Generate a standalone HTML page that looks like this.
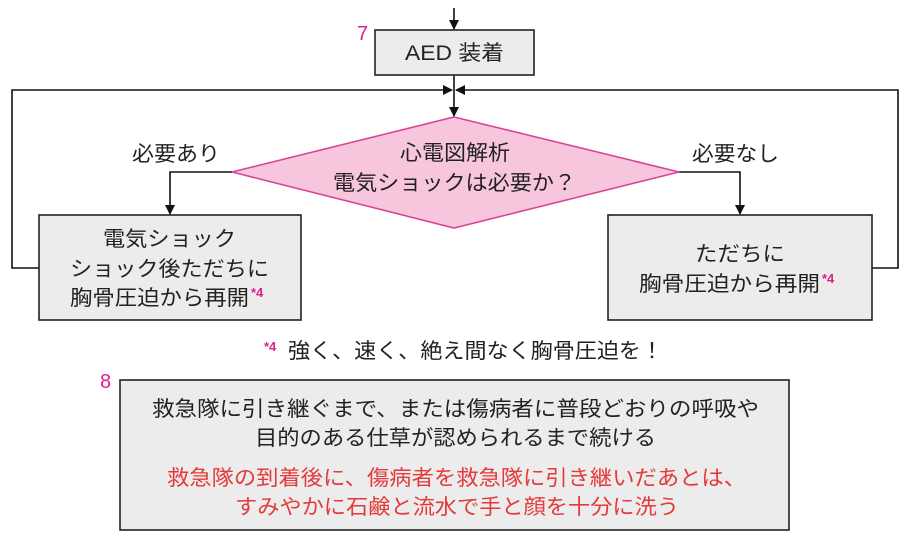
<!DOCTYPE html>
<html><head><meta charset="utf-8"><style>
html,body{margin:0;padding:0;background:#fff;}
svg{display:block;font-family:"Liberation Sans","Noto Sans CJK JP",sans-serif;}
</style></head><body>
<svg width="904" height="543" viewBox="0 0 904 543" xmlns="http://www.w3.org/2000/svg">
<defs><marker id="a" markerWidth="10" markerHeight="10" refX="9" refY="5" orient="auto" markerUnits="userSpaceOnUse"><path d="M0,0 L10,5 L0,10 z" fill="#111"/></marker></defs>
<g stroke="#111" stroke-width="1.6" fill="none">
<line x1="454" y1="8" x2="454" y2="29" marker-end="url(#a)"/>
<line x1="454" y1="75" x2="454" y2="116" marker-end="url(#a)"/>
<polyline points="39,268 12,268 12,90 452,90" marker-end="url(#a)"/>
<polyline points="872,268 898,268 898,90 456,90" marker-end="url(#a)"/>
<polyline points="232,172 170,172 170,214" marker-end="url(#a)"/>
<polyline points="679,172 740,172 740,214" marker-end="url(#a)"/>
</g>
<rect x="375" y="30" width="159" height="45" fill="#ececec" stroke="#222" stroke-width="1.6"/>
<g font-size="21" fill="#222">
<text x="405" y="60" textLength="99" lengthAdjust="spacingAndGlyphs">AED 装着</text>
</g>
<text x="357" y="40" font-size="20" fill="#e0208a">7</text>
<polygon points="454,117 679,172 454,228 232,172" fill="#f7c6dc" stroke="#d9449a" stroke-width="1.6"/>
<g font-size="21" fill="#222">
<text x="400" y="160" textLength="110" lengthAdjust="spacingAndGlyphs">心電図解析</text>
<text x="333" y="190" textLength="243" lengthAdjust="spacingAndGlyphs">電気ショックは必要か？</text>
<text x="132" y="161" textLength="88" lengthAdjust="spacingAndGlyphs">必要あり</text>
<text x="692" y="161" textLength="87" lengthAdjust="spacingAndGlyphs">必要なし</text>
</g>
<rect x="39" y="215" width="262" height="105" fill="#ececec" stroke="#222" stroke-width="1.6"/>
<g font-size="21" fill="#222">
<text x="103" y="246" textLength="133" lengthAdjust="spacingAndGlyphs">電気ショック</text>
<text x="70" y="276" textLength="199" lengthAdjust="spacingAndGlyphs">ショック後ただちに</text>
<text x="70" y="305" textLength="179" lengthAdjust="spacingAndGlyphs">胸骨圧迫から再開</text>
<text x="251" y="297" font-size="13" font-weight="bold" fill="#e0208a">*4</text>
</g>
<rect x="608" y="215" width="264" height="105" fill="#ececec" stroke="#222" stroke-width="1.6"/>
<g font-size="21" fill="#222">
<text x="695" y="261" textLength="90" lengthAdjust="spacingAndGlyphs">ただちに</text>
<text x="639" y="291" textLength="181" lengthAdjust="spacingAndGlyphs">胸骨圧迫から再開</text>
<text x="822" y="283" font-size="13" font-weight="bold" fill="#e0208a">*4</text>
</g>
<text x="264" y="351" font-size="13" font-weight="bold" fill="#e0208a">*4</text>
<text x="288" y="358" font-size="21" fill="#222" textLength="375" lengthAdjust="spacingAndGlyphs">強く、速く、絶え間なく胸骨圧迫を！</text>
<text x="100" y="388" font-size="20" fill="#e0208a">8</text>
<rect x="120" y="380" width="669" height="150" fill="#ececec" stroke="#222" stroke-width="1.6"/>
<g font-size="21">
<text x="152" y="416" fill="#222" textLength="607" lengthAdjust="spacingAndGlyphs">救急隊に引き継ぐまで、または傷病者に普段どおりの呼吸や</text>
<text x="255" y="445" fill="#222" textLength="401" lengthAdjust="spacingAndGlyphs">目的のある仕草が認められるまで続ける</text>
<text x="167" y="485" fill="#e53a3a" textLength="579" lengthAdjust="spacingAndGlyphs">救急隊の到着後に、傷病者を救急隊に引き継いだあとは、</text>
<text x="235" y="514" fill="#e53a3a" textLength="444" lengthAdjust="spacingAndGlyphs">すみやかに石鹸と流水で手と顔を十分に洗う</text>
</g>
</svg>
</body></html>
